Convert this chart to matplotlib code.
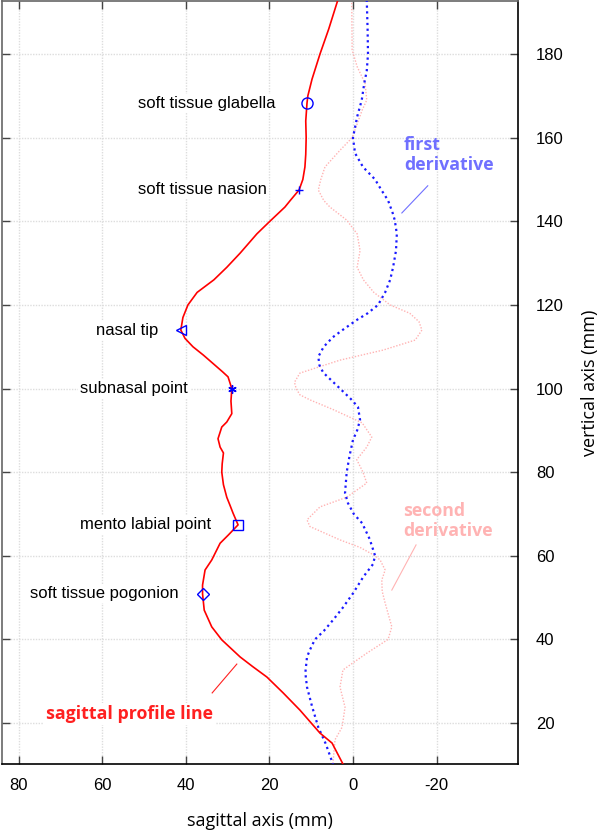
import matplotlib
matplotlib.use("Agg")
import matplotlib.pyplot as plt

plt.rcParams["axes.unicode_minus"] = False

# ---- data (sagittal x in mm, vertical y in mm) ----
profile_y = [193, 186, 180, 174, 170, 168.3, 164, 160, 156, 153, 150, 147.5, 145, 143.4, 140, 137,
             132.4, 129, 126, 123, 120, 117, 114, 112, 110, 108, 106, 104, 102.8, 100, 97, 94, 92,
             90.8, 88, 86, 84.6, 82, 80, 77, 74, 72, 70.2, 67.4, 65, 63, 59, 56.6, 53, 50.9, 47, 43,
             39.9, 35.8, 33.5, 31, 27.2, 23.1, 17.6, 15.2, 10.2]
profile_x = [3.6, 5.8, 7.9, 9.8, 10.8, 11.0, 11.3, 11.2, 11.3, 11.5, 12.0, 12.9, 15.0, 16.3, 19.9, 23.0,
             27, 30.2, 33.3, 37.3, 39.5, 40.7, 41.2, 40.2, 38.3, 35.8, 33.5, 31.2, 29.9, 29, 29.2, 29.0, 30.2,
             31.4, 32.3, 31.8, 31, 31.3, 31.4, 31, 30.2, 29.4, 28.7, 27.5, 29.8, 31.8, 33.8, 35.4, 36, 36, 35.6, 33.8,
             31.4, 27, 24, 20.6, 16.7, 12.7, 7.9, 5.0, 2.4]

d1_y = [193, 186, 180, 176, 173, 169, 165, 160, 156.3, 153, 150, 147.5, 145, 142, 140.3, 137, 133, 129,
        126, 123, 120, 118, 116.4, 114, 112.3, 110, 107.6, 105.5, 103.8, 100, 97.5, 95.6, 92.5, 90, 87.7,
        84, 80, 75, 72.6, 70, 67.8, 64, 60, 58, 55, 51, 47.5, 44.6, 42, 40, 37.5, 35.8, 32, 28.6, 24, 19, 15, 10.2]
d1_x = [-3.3, -3.5, -3.6, -3.3, -2.7, -2.1, -1.0, 0, -0.5, -2.4, -5.3, -6.8, -8.4, -9.5, -10, -10.5, -10.3, -9.6,
        -8.9, -7.7, -6, -3.5, -0.9, 2.5, 4.8, 7, 8.3, 8.0, 7.1, 3.1, 0.5, -1.2, -1.7, -1.0, 0,
        0.8, 1.5, 1.9, 1.2, -0.2, -2.2, -4, -5.3, -4.8, -2.5, 0, 2.5, 4.8, 7, 9.1, 10.3, 11, 11.4, 11, 9.8, 8.3, 6.5, 4.8]

d2_y = [193, 181, 177, 173, 169, 166.6, 160, 157, 153, 150, 147.5, 145, 143.4, 140.3, 137, 133, 129, 126,
        123, 120, 118, 116, 114, 111.6, 109.2, 106.8, 103.7, 101.5, 100, 98.5, 97.3, 95, 91.8, 88.4, 86,
        83, 80, 77.4, 74, 71.7, 68.6, 67, 63.8, 62, 60, 59, 56.6, 54.2, 51.5, 48.7, 43, 40, 36.7,
        32.7, 28.6, 23.8, 19, 16, 10.2]
d2_x = [0.3, 0.2, -1.0, -2.9, -3.3, -2.2, 0.2, 3.1, 6.7, 7.7, 8.3, 7.0, 5.5, 1.5, -1.0, -1.7, -1.0, -2.5,
        -5, -8.9, -13.6, -15.8, -16.5, -14.9, -7.2, 3.1, 12.7, 14.0, 13.6, 12.7, 10.3, 4.8, -2.2, -4.5, -3.3,
        -0.9, -2.4, -3.3, 1.5, 7.9, 11, 10.3, 3.1, -1.7, -5.3, -6.5, -7.7, -6.9, -7.0, -7.7, -9.3, -8.4, -3.3,
        2.4, 3.1, 1.9, 2.6, 4.3, 4.8]

landmark_names = ["soft tissue glabella", "soft tissue nasion", "nasal tip", "subnasal point",
                  "mento labial point", "soft tissue pogonion"]
landmark_x = [11.0, 12.9, 41.2, 29.0, 27.5, 36.0]
landmark_y = [168.3, 147.5, 114.0, 100.0, 67.4, 50.9]
landmark_markers = ["o", "+", "<", (6, 2, 0), "s", "D"]
label_x = [51.4, 51.4, 61.5, 65.3, 65.3, 77.3]

x_ticks = [80, 60, 40, 20, 0, -20]
y_ticks = [20, 40, 60, 80, 100, 120, 140, 160, 180]

# ---- figure ----
fig = plt.figure(figsize=(6, 8.33), dpi=100)
ax = fig.add_axes([2 / 600, 69 / 833, 516 / 600, 763 / 833])

ax.plot(profile_x, profile_y, color="#ff0000", lw=1.2, zorder=4)
ax.plot(d1_x, d1_y, color="#1a1aff", lw=1.6, ls=(0, (1, 1.6)), zorder=3)
ax.plot(d2_x, d2_y, color="#ffb3b3", lw=1.0, ls=(0, (1, 1.2)), zorder=2)

msizes = [8, 6, 7, 6, 7, 6]
for name, mx, my, mk, lx, msz in zip(landmark_names, landmark_x, landmark_y, landmark_markers,
                                     label_x, msizes):
    ax.plot([mx], [my], marker=mk, ms=msz, mfc="none", mec="#0000ff", mew=1.0,
            ls="none", zorder=5)
    ax.text(lx, my, name, fontsize=12, family="Liberation Sans", ha="left", va="center",
            color="black", zorder=3,
            bbox=dict(facecolor="white", edgecolor="none", pad=1.5))

ax.text(-12.2, 155.9, "first\nderivative", color="#7070ff", fontsize=12.8, fontweight="bold",
        family="Open Sans", ha="left", va="center", linespacing=1.15, zorder=6)
ax.plot([-11.7, -17.9], [142.0, 148.5], color="#7070ff", lw=0.8, zorder=6)

ax.text(-12.0, 68.3, "second\nderivative", color="#ffb3b3", fontsize=12.8, fontweight="bold",
        family="Open Sans", ha="left", va="center", linespacing=1.15, zorder=6)
ax.plot([-9.3, -15.1], [51.8, 62.6], color="#ffb3b3", lw=0.8, zorder=6)

ax.text(73.4, 22.2, "sagittal profile line", color="#ff2020", fontsize=12.8, fontweight="bold",
        family="Open Sans", ha="left", va="center", zorder=6,
        bbox=dict(facecolor="white", edgecolor="none", pad=1.5))
ax.plot([33.7, 27.8], [27.2, 34.1], color="#ff2020", lw=0.8, zorder=6)

ax.set_xlim(84.0, -39.5)
ax.set_ylim(10.2, 192.7)
ax.set_xticks(x_ticks)
ax.set_yticks(y_ticks)
ax.grid(True, color="#dddddd", ls=(0, (1, 1)), lw=1.0, zorder=0)
ax.set_axisbelow(True)

ax.tick_params(axis="both", direction="in", length=6, width=1, color="#444444",
               top=True, bottom=True, left=True, right=True,
               labelleft=False, labelright=True, labelbottom=True, labeltop=False,
               labelsize=12, pad=10)
for lab in ax.get_xticklabels() + ax.get_yticklabels():
    lab.set_family("Liberation Sans")
ax.tick_params(axis="y", pad=13)

ax.yaxis.set_label_position("right")
ax.set_ylabel("vertical axis (mm)", fontsize=13, family="Open Sans", labelpad=12)
ax.set_xlabel("sagittal axis (mm)", fontsize=13, family="Open Sans", labelpad=14)

for s in ax.spines.values():
    s.set_color("black")
    s.set_linewidth(1.2)
ax.spines["left"].set_color("#666666")
ax.spines["top"].set_color("#666666")

fig.savefig("out.png", dpi=100)
